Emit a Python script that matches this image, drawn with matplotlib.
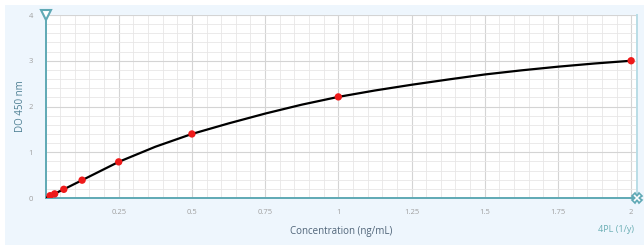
"Standard curve, 4PL fit"
import numpy as np
from matplotlib import pyplot as plt
from matplotlib.patches import Rectangle

plt.rcParams['font.family'] = ['Open Sans', 'DejaVu Sans']

# standards
conc = [0.015625, 0.03125, 0.0625, 0.125, 0.25, 0.5, 1.0, 2.0]
od = [0.05, 0.09, 0.19, 0.39, 0.79, 1.40, 2.21, 3.0]

# fitted curve
fit_x = [0.0, 0.0625, 0.125, 0.25, 0.375, 0.5, 0.625, 0.75, 0.875,
         1.0, 1.125, 1.25, 1.375, 1.5, 1.625, 1.75, 1.875, 2.0]
fit_y = [0.0, 0.19, 0.39, 0.79, 1.12, 1.40, 1.63, 1.845, 2.04,
         2.21, 2.35, 2.475, 2.59, 2.70, 2.79, 2.87, 2.94, 3.0]

xticks = [0.25, 0.5, 0.75, 1, 1.25, 1.5, 1.75, 2]
xtick_labels = ['0.25', '0.5', '0.75', '1', '1.25', '1.5', '1.75', '2']
yticks = [0, 1, 2, 3, 4]

teal = '#5fa9b5'

fig = plt.figure(figsize=(6.44, 2.45), dpi=100)
fig.patch.set_facecolor('white')
fig.patches.append(Rectangle((5 / 644, 0), 1, 1 - 5 / 245, transform=fig.transFigure,
                             facecolor='#eef6fd', edgecolor='none', zorder=-10))

ax = fig.add_axes([45.5 / 644, 47 / 245, (637 - 45.5) / 644, 183 / 245])
ax.set_facecolor('white')
ax.set_xlim(0, 2.02)
ax.set_ylim(0, 4)

# grid
ax.set_xticks(xticks)
ax.set_xticklabels(xtick_labels)
ax.set_xticks(np.arange(0, 2.03, 0.05), minor=True)
ax.set_yticks(yticks)
ax.set_yticks(np.arange(0, 4.01, 0.2), minor=True)
ax.grid(which='major', color='#d4d4d4', lw=0.8)
ax.grid(which='minor', color='#e8e6e6', lw=0.6)
ax.set_axisbelow(True)
ax.tick_params(which='both', length=0)
ax.tick_params(axis='x', pad=8, labelsize=5.5, labelcolor='#a0a0a0')
ax.tick_params(axis='y', pad=9, labelsize=5.5, labelcolor='#a0a0a0')

ax.spines['top'].set_visible(False)
ax.spines['left'].set_color(teal)
ax.spines['left'].set_linewidth(1.4)
ax.spines['bottom'].set_color(teal)
ax.spines['bottom'].set_linewidth(1.4)
ax.spines['right'].set_color('#b9dde6')
ax.spines['right'].set_linewidth(1.4)

# curve and points
ax.plot(fit_x, fit_y, color='black', lw=1.6, zorder=3)
ax.scatter(conc, od, s=28, color='#ee1a1a', zorder=4, edgecolors='none')

# axis end markers
ax.plot([0], [4], marker='v', ms=7, mfc='white', mec=teal, mew=1.5,
        clip_on=False, zorder=5)
ax.plot([2.02], [0], marker='X', ms=6.5, mfc='white', mec=teal, mew=1.2,
        clip_on=False, zorder=5)

ax.set_xlabel('Concentration (ng/mL)', fontsize=7, color='#4f6478', labelpad=7)
ax.set_ylabel('DO 450 nm', fontsize=7, color='#4d7f93', labelpad=2)
fig.text(616 / 644, 1 - 229 / 245, '4PL (1/y)', fontsize=6.5, color='#6aaeb4',
         ha='center', va='center')

fig.savefig('out.png', dpi=100, facecolor=fig.get_facecolor())
